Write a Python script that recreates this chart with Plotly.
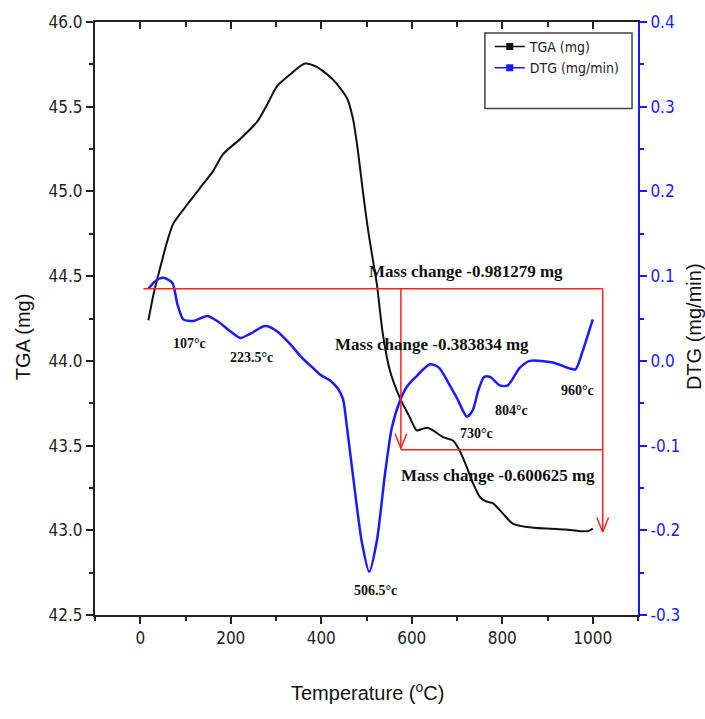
import plotly.graph_objects as go

# ---------------- data ----------------
tga_temp = [18, 30, 48, 59, 73, 103, 132, 161, 183, 221, 258, 280, 302, 331, 364, 390,
            426, 457, 470, 481, 492, 503, 512, 523, 536, 552, 574, 596, 611, 625, 634,
            647, 669, 691, 706, 722, 735, 751, 765, 779, 801, 823, 854, 900, 940, 971,
            990, 1000]
tga_mass = [44.24, 44.40, 44.59, 44.70, 44.81, 44.92, 45.02, 45.12, 45.22, 45.31, 45.41,
            45.51, 45.62, 45.69, 45.755, 45.735, 45.66, 45.55, 45.43, 45.24, 45.00, 44.78,
            44.63, 44.45, 44.16, 43.94, 43.78, 43.665, 43.59, 43.60, 43.605, 43.59, 43.55,
            43.53, 43.47, 43.37, 43.28, 43.195, 43.17, 43.16, 43.10, 43.04, 43.02, 43.01,
            43.005, 42.995, 42.995, 43.01]

dtg_temp = [18, 33, 51, 71, 82, 95, 117, 148, 170, 199, 221, 243, 276, 302, 331, 355,
            375, 397, 419, 437, 448, 457, 470, 490, 506, 523, 541, 556, 574, 590, 611,
            640, 660, 680, 700, 722, 735, 747, 760, 773, 795, 812, 839, 861, 912, 949,
            962, 978, 1000]
dtg_rate = [0.085, 0.094, 0.098, 0.092, 0.067, 0.049, 0.047, 0.053, 0.047, 0.035, 0.027,
            0.032, 0.041, 0.035, 0.020, 0.005, -0.005, -0.016, -0.023, -0.033, -0.045,
            -0.079, -0.135, -0.215, -0.249, -0.212, -0.133, -0.079, -0.047, -0.030, -0.018,
            -0.004, -0.008, -0.025, -0.044, -0.066, -0.058, -0.035, -0.019, -0.019, -0.029,
            -0.029, -0.008, 0.000, -0.002, -0.009, -0.010, 0.012, 0.049]

peak_labels = ["107\u00b0c", "223.5\u00b0c", "506.5\u00b0c", "730\u00b0c", "804\u00b0c", "960\u00b0c"]
peak_label_x = [108, 245, 519, 742, 821, 967]
peak_label_y = [0.021, 0.004, -0.271, -0.086, -0.059, -0.035]

mass_labels = ["Mass change -0.981279 mg", "Mass change -0.383834 mg", "Mass change -0.600625 mg"]
mass_label_x = [720, 645, 790]
mass_label_y = [0.106, 0.019, -0.135]

# bracket (temperature / DTG-axis units)
br_start, br_mid, br_end = 7, 576, 1022
br_top, br_mid_low, br_end_low = 0.085, -0.105, -0.202

x_ticks = [0, 200, 400, 600, 800, 1000]
left_ticks = [42.5, 43.0, 43.5, 44.0, 44.5, 45.0, 45.5, 46.0]
right_ticks = [-0.3, -0.2, -0.1, 0.0, 0.1, 0.2, 0.3, 0.4]

BLUE = "#1a1aff"
SANS = "Liberation Sans Narrow, Arial Narrow, DejaVu Sans Condensed, Liberation Sans, Arial"
SERIF = "Liberation Serif, Times New Roman, serif"

fig = go.Figure()

fig.add_trace(go.Scatter(x=dtg_temp, y=dtg_rate, mode="lines", yaxis="y2",
                         line=dict(color=BLUE, width=2.5, shape="spline", smoothing=0.7),
                         showlegend=False, hoverinfo="skip"))
fig.add_trace(go.Scatter(x=tga_temp, y=tga_mass, mode="lines",
                         line=dict(color="#111111", width=2, shape="spline", smoothing=0.7),
                         showlegend=False, hoverinfo="skip"))
# legend entries
fig.add_trace(go.Scatter(x=[None], y=[None], mode="lines+markers", name="TGA (mg)",
                         line=dict(color="#111111", width=1.5),
                         marker=dict(symbol="square", size=7, color="#111111")))
fig.add_trace(go.Scatter(x=[None], y=[None], mode="lines+markers", name="DTG (mg/min)",
                         line=dict(color=BLUE, width=1.5),
                         marker=dict(symbol="square", size=7, color=BLUE)))
# dummy trace for top mirror axis
fig.add_trace(go.Scatter(x=[None], y=[None], xaxis="x2", showlegend=False, hoverinfo="skip"))

shapes = []
red = dict(color="#ff2020", width=1.5)
def seg(x0, y0, x1, y1):
    shapes.append(dict(type="line", xref="x", yref="y2", x0=x0, y0=y0, x1=x1, y1=y1, line=red))

seg(br_start, br_top, br_end, br_top)
seg(br_mid, br_top, br_mid, br_mid_low)
seg(br_mid, br_mid_low, br_end, br_mid_low)
seg(br_end, br_top, br_end, br_end_low)
# arrow heads (open V)
for xa, ya in [(br_mid, br_mid_low + 0.002), (br_end, br_end_low)]:
    seg(xa - 13, ya + 0.017, xa, ya)
    seg(xa, ya, xa + 13, ya + 0.017)

# legend box
shapes.append(dict(type="rect", xref="paper", yref="paper", x0=0.718, x1=0.989,
                   y0=0.854, y1=0.9815, line=dict(color="#444444", width=1.5),
                   fillcolor="rgba(0,0,0,0)"))

annotations = []
for t, x, y in zip(mass_labels, mass_label_x, mass_label_y):
    annotations.append(dict(text="<b>" + t + "</b>", x=x, y=y, xref="x", yref="y2",
                            showarrow=False, font=dict(family=SERIF, size=17, color="#111111")))
for t, x, y in zip(peak_labels, peak_label_x, peak_label_y):
    annotations.append(dict(text="<b>" + t + "</b>", x=x, y=y, xref="x", yref="y2",
                            showarrow=False, font=dict(family=SERIF, size=14, color="#111111")))
# axis titles
annotations.append(dict(text="TGA (mg)", xref="paper", yref="paper", x=-0.1326, y=0.47,
                        textangle=-90, showarrow=False, xanchor="center", yanchor="middle",
                        font=dict(family="Liberation Sans, Arial", size=20, color="#111111")))
annotations.append(dict(text="DTG (mg/min)", xref="paper", yref="paper", x=1.079, y=0.487,
                        textangle=-90, showarrow=False, xanchor="left", yanchor="middle",
                        font=dict(family="Liberation Sans, Arial", size=20, color="#111111")))
annotations.append(dict(text="Temperature (<sup>o</sup>C)", xref="paper", yref="paper",
                        x=0.501, y=-0.129, showarrow=False, xanchor="center", yanchor="middle",
                        font=dict(family="Liberation Sans, Arial", size=20, color="#111111")))

fig.update_layout(
    width=705, height=719,
    margin=dict(l=95, r=67, t=20, b=104),
    paper_bgcolor="white", plot_bgcolor="white",
    showlegend=True,
    legend=dict(x=0.727, y=0.985, xanchor="left", yanchor="top",
                bgcolor="rgba(0,0,0,0)", borderwidth=0,
                font=dict(family=SANS, size=14, color="#222222"),
                itemwidth=30, tracegroupgap=0),
    xaxis=dict(range=[-100, 1100], tickvals=x_ticks, ticks="outside", ticklen=7,
               tickwidth=1.5, tickcolor="#222222", showline=True, linecolor="#222222",
               linewidth=2, showgrid=False, zeroline=False,
               minor=dict(dtick=100, tick0=0, ticks="outside", ticklen=4, tickcolor="#222222"),
               tickfont=dict(family=SANS, size=17, color="#222222")),
    xaxis2=dict(range=[-100, 1100], overlaying="x", side="top", anchor="y",
                tickvals=x_ticks, ticks="inside", ticklen=7, tickwidth=1.5,
                tickcolor="#222222", showline=True, linecolor="#222222", linewidth=2,
                showticklabels=False, showgrid=False, zeroline=False,
                minor=dict(dtick=100, tick0=0, ticks="inside", ticklen=5, tickcolor="#222222")),
    yaxis=dict(range=[42.5, 46.0], tickvals=left_ticks, ticktext=[f"{v:.1f}" for v in left_ticks],
               ticks="outside", ticklen=7, tickwidth=1.5, tickcolor="#222222",
               showline=True, linecolor="#222222", linewidth=2, showgrid=False, zeroline=False,
               minor=dict(dtick=0.25, tick0=42.5, ticks="outside", ticklen=4, tickcolor="#222222"),
               tickfont=dict(family=SANS, size=17, color="#222222")),
    yaxis2=dict(range=[-0.3, 0.4], overlaying="y", side="right", anchor="x",
                tickvals=right_ticks, ticktext=[f"{v:.1f}" for v in right_ticks],
                ticks="outside", ticklen=7, tickwidth=1.5, tickcolor=BLUE,
                showline=True, linecolor=BLUE, linewidth=2, showgrid=False, zeroline=False,
                minor=dict(dtick=0.05, tick0=-0.3, ticks="outside", ticklen=4, tickcolor=BLUE),
                tickfont=dict(family=SANS, size=17, color=BLUE)),
    shapes=shapes,
    annotations=annotations,
)

fig.write_html("out.html")
